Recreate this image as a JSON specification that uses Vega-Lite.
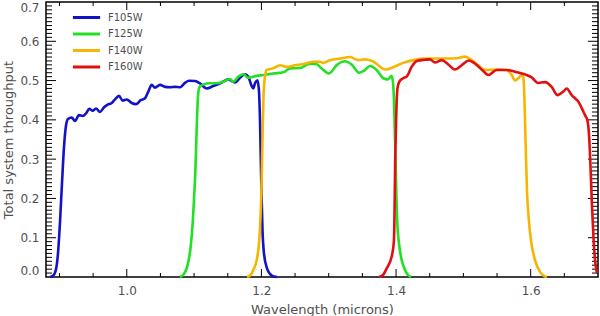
{
"$schema": "https://vega.github.io/schema/vega-lite/v6.json",
"width": 552, "height": 275,
"autosize": {"type": "none"},
"padding": {"left": 46, "top": 2, "right": 2, "bottom": 39},
"background": "white",
"config": {"view": {"stroke": "black", "strokeWidth": 1.5}, "font": "DejaVu Sans"},
"datasets": {
"curves": [
{"filter":"F105W","w":0.8859,"t":0},{"filter":"F105W","w":0.8904,"t":0.003},{"filter":"F105W","w":0.8949,"t":0.02},{"filter":"F105W","w":0.8978,"t":0.06},{"filter":"F105W","w":0.9008,"t":0.14},{"filter":"F105W","w":0.9038,"t":0.24},{"filter":"F105W","w":0.9067,"t":0.33},{"filter":"F105W","w":0.9097,"t":0.385},{"filter":"F105W","w":0.9127,"t":0.402},{"filter":"F105W","w":0.9182,"t":0.406},{"filter":"F105W","w":0.9231,"t":0.397},{"filter":"F105W","w":0.929,"t":0.412},{"filter":"F105W","w":0.9345,"t":0.41},{"filter":"F105W","w":0.9394,"t":0.4165},{"filter":"F105W","w":0.9443,"t":0.428},{"filter":"F105W","w":0.9494,"t":0.423},{"filter":"F105W","w":0.9543,"t":0.429},{"filter":"F105W","w":0.9602,"t":0.42},{"filter":"F105W","w":0.9662,"t":0.432},{"filter":"F105W","w":0.9717,"t":0.439},{"filter":"F105W","w":0.9776,"t":0.443},{"filter":"F105W","w":0.9825,"t":0.452},{"filter":"F105W","w":0.9884,"t":0.461},{"filter":"F105W","w":0.9939,"t":0.449},{"filter":"F105W","w":0.9999,"t":0.452},{"filter":"F105W","w":1.0073,"t":0.443},{"filter":"F105W","w":1.0137,"t":0.44},{"filter":"F105W","w":1.0207,"t":0.45},{"filter":"F105W","w":1.0271,"t":0.455},{"filter":"F105W","w":1.032,"t":0.472},{"filter":"F105W","w":1.037,"t":0.489},{"filter":"F105W","w":1.0419,"t":0.482},{"filter":"F105W","w":1.0493,"t":0.489},{"filter":"F105W","w":1.0568,"t":0.484},{"filter":"F105W","w":1.0642,"t":0.483},{"filter":"F105W","w":1.0716,"t":0.484},{"filter":"F105W","w":1.0791,"t":0.483},{"filter":"F105W","w":1.0865,"t":0.494},{"filter":"F105W","w":1.0924,"t":0.4995},{"filter":"F105W","w":1.1013,"t":0.499},{"filter":"F105W","w":1.1088,"t":0.493},{"filter":"F105W","w":1.1187,"t":0.48},{"filter":"F105W","w":1.1285,"t":0.486},{"filter":"F105W","w":1.141,"t":0.495},{"filter":"F105W","w":1.1508,"t":0.503},{"filter":"F105W","w":1.1607,"t":0.495},{"filter":"F105W","w":1.1682,"t":0.507},{"filter":"F105W","w":1.1756,"t":0.516},{"filter":"F105W","w":1.1805,"t":0.51},{"filter":"F105W","w":1.1856,"t":0.486},{"filter":"F105W","w":1.1879,"t":0.48},{"filter":"F105W","w":1.1905,"t":0.493},{"filter":"F105W","w":1.1939,"t":0.501},{"filter":"F105W","w":1.1961,"t":0.48},{"filter":"F105W","w":1.1979,"t":0.4},{"filter":"F105W","w":1.2,"t":0.22},{"filter":"F105W","w":1.2016,"t":0.12},{"filter":"F105W","w":1.2038,"t":0.06},{"filter":"F105W","w":1.2083,"t":0.022},{"filter":"F105W","w":1.2127,"t":0.008},{"filter":"F105W","w":1.2187,"t":0.001},{"filter":"F105W","w":1.2231,"t":0},
{"filter":"F125W","w":1.079,"t":0},{"filter":"F125W","w":1.085,"t":0.008},{"filter":"F125W","w":1.0895,"t":0.025},{"filter":"F125W","w":1.0949,"t":0.077},{"filter":"F125W","w":1.0979,"t":0.137},{"filter":"F125W","w":1.0998,"t":0.196},{"filter":"F125W","w":1.1021,"t":0.28},{"filter":"F125W","w":1.1039,"t":0.38},{"filter":"F125W","w":1.1058,"t":0.46},{"filter":"F125W","w":1.108,"t":0.484},{"filter":"F125W","w":1.1137,"t":0.49},{"filter":"F125W","w":1.1236,"t":0.493},{"filter":"F125W","w":1.1336,"t":0.493},{"filter":"F125W","w":1.1434,"t":0.497},{"filter":"F125W","w":1.1533,"t":0.504},{"filter":"F125W","w":1.1582,"t":0.497},{"filter":"F125W","w":1.1657,"t":0.51},{"filter":"F125W","w":1.1731,"t":0.516},{"filter":"F125W","w":1.1805,"t":0.507},{"filter":"F125W","w":1.193,"t":0.512},{"filter":"F125W","w":1.2028,"t":0.514},{"filter":"F125W","w":1.2176,"t":0.518},{"filter":"F125W","w":1.2325,"t":0.521},{"filter":"F125W","w":1.2424,"t":0.531},{"filter":"F125W","w":1.2573,"t":0.532},{"filter":"F125W","w":1.2707,"t":0.542},{"filter":"F125W","w":1.2811,"t":0.542},{"filter":"F125W","w":1.29,"t":0.53},{"filter":"F125W","w":1.3004,"t":0.518},{"filter":"F125W","w":1.3123,"t":0.54},{"filter":"F125W","w":1.3241,"t":0.549},{"filter":"F125W","w":1.3345,"t":0.54},{"filter":"F125W","w":1.345,"t":0.52},{"filter":"F125W","w":1.3524,"t":0.525},{"filter":"F125W","w":1.3613,"t":0.537},{"filter":"F125W","w":1.3712,"t":0.527},{"filter":"F125W","w":1.381,"t":0.506},{"filter":"F125W","w":1.388,"t":0.503},{"filter":"F125W","w":1.3932,"t":0.512},{"filter":"F125W","w":1.3955,"t":0.495},{"filter":"F125W","w":1.3969,"t":0.45},{"filter":"F125W","w":1.399,"t":0.32},{"filter":"F125W","w":1.4006,"t":0.2},{"filter":"F125W","w":1.4021,"t":0.13},{"filter":"F125W","w":1.4044,"t":0.085},{"filter":"F125W","w":1.4084,"t":0.043},{"filter":"F125W","w":1.4133,"t":0.018},{"filter":"F125W","w":1.4177,"t":0.005},{"filter":"F125W","w":1.4222,"t":0},
{"filter":"F140W","w":1.1786,"t":0},{"filter":"F140W","w":1.1845,"t":0.006},{"filter":"F140W","w":1.1879,"t":0.018},{"filter":"F140W","w":1.193,"t":0.043},{"filter":"F140W","w":1.1968,"t":0.094},{"filter":"F140W","w":1.1986,"t":0.15},{"filter":"F140W","w":1.2,"t":0.22},{"filter":"F140W","w":1.2016,"t":0.35},{"filter":"F140W","w":1.2031,"t":0.46},{"filter":"F140W","w":1.2053,"t":0.51},{"filter":"F140W","w":1.2078,"t":0.527},{"filter":"F140W","w":1.2176,"t":0.531},{"filter":"F140W","w":1.2276,"t":0.539},{"filter":"F140W","w":1.2375,"t":0.535},{"filter":"F140W","w":1.2499,"t":0.539},{"filter":"F140W","w":1.2622,"t":0.542},{"filter":"F140W","w":1.2771,"t":0.548},{"filter":"F140W","w":1.287,"t":0.548},{"filter":"F140W","w":1.2919,"t":0.545},{"filter":"F140W","w":1.3019,"t":0.552},{"filter":"F140W","w":1.3167,"t":0.556},{"filter":"F140W","w":1.3316,"t":0.56},{"filter":"F140W","w":1.3439,"t":0.552},{"filter":"F140W","w":1.3539,"t":0.554},{"filter":"F140W","w":1.3662,"t":0.548},{"filter":"F140W","w":1.3736,"t":0.539},{"filter":"F140W","w":1.3836,"t":0.528},{"filter":"F140W","w":1.3959,"t":0.534},{"filter":"F140W","w":1.4107,"t":0.545},{"filter":"F140W","w":1.4256,"t":0.552},{"filter":"F140W","w":1.4405,"t":0.556},{"filter":"F140W","w":1.4604,"t":0.556},{"filter":"F140W","w":1.4752,"t":0.556},{"filter":"F140W","w":1.4901,"t":0.557},{"filter":"F140W","w":1.5024,"t":0.561},{"filter":"F140W","w":1.5124,"t":0.552},{"filter":"F140W","w":1.5222,"t":0.539},{"filter":"F140W","w":1.5321,"t":0.527},{"filter":"F140W","w":1.5495,"t":0.528},{"filter":"F140W","w":1.5644,"t":0.527},{"filter":"F140W","w":1.5718,"t":0.514},{"filter":"F140W","w":1.5767,"t":0.5},{"filter":"F140W","w":1.5816,"t":0.506},{"filter":"F140W","w":1.5866,"t":0.514},{"filter":"F140W","w":1.5893,"t":0.505},{"filter":"F140W","w":1.5908,"t":0.45},{"filter":"F140W","w":1.5923,"t":0.35},{"filter":"F140W","w":1.5945,"t":0.22},{"filter":"F140W","w":1.5975,"t":0.14},{"filter":"F140W","w":1.6004,"t":0.094},{"filter":"F140W","w":1.6064,"t":0.043},{"filter":"F140W","w":1.6138,"t":0.013},{"filter":"F140W","w":1.6198,"t":0.003},{"filter":"F140W","w":1.6242,"t":0},
{"filter":"F160W","w":1.3747,"t":0},{"filter":"F160W","w":1.3806,"t":0.005},{"filter":"F160W","w":1.3861,"t":0.022},{"filter":"F160W","w":1.3935,"t":0.052},{"filter":"F160W","w":1.3969,"t":0.094},{"filter":"F160W","w":1.399,"t":0.32},{"filter":"F160W","w":1.4006,"t":0.43},{"filter":"F160W","w":1.4021,"t":0.48},{"filter":"F160W","w":1.4048,"t":0.497},{"filter":"F160W","w":1.4107,"t":0.506},{"filter":"F160W","w":1.4158,"t":0.51},{"filter":"F160W","w":1.4232,"t":0.535},{"filter":"F160W","w":1.4307,"t":0.55},{"filter":"F160W","w":1.443,"t":0.553},{"filter":"F160W","w":1.4504,"t":0.554},{"filter":"F160W","w":1.4578,"t":0.546},{"filter":"F160W","w":1.4678,"t":0.552},{"filter":"F160W","w":1.4776,"t":0.541},{"filter":"F160W","w":1.4876,"t":0.528},{"filter":"F160W","w":1.4975,"t":0.539},{"filter":"F160W","w":1.5084,"t":0.551},{"filter":"F160W","w":1.5158,"t":0.545},{"filter":"F160W","w":1.5284,"t":0.526},{"filter":"F160W","w":1.5371,"t":0.514},{"filter":"F160W","w":1.5495,"t":0.527},{"filter":"F160W","w":1.5644,"t":0.527},{"filter":"F160W","w":1.5782,"t":0.522},{"filter":"F160W","w":1.593,"t":0.515},{"filter":"F160W","w":1.6015,"t":0.508},{"filter":"F160W","w":1.6109,"t":0.494},{"filter":"F160W","w":1.6213,"t":0.496},{"filter":"F160W","w":1.6312,"t":0.484},{"filter":"F160W","w":1.6398,"t":0.463},{"filter":"F160W","w":1.6485,"t":0.472},{"filter":"F160W","w":1.6535,"t":0.48},{"filter":"F160W","w":1.6609,"t":0.463},{"filter":"F160W","w":1.6658,"t":0.455},{"filter":"F160W","w":1.6707,"t":0.447},{"filter":"F160W","w":1.6758,"t":0.43},{"filter":"F160W","w":1.6807,"t":0.412},{"filter":"F160W","w":1.6841,"t":0.4},{"filter":"F160W","w":1.6871,"t":0.35},{"filter":"F160W","w":1.6889,"t":0.28},{"filter":"F160W","w":1.6911,"t":0.18},{"filter":"F160W","w":1.6933,"t":0.1},{"filter":"F160W","w":1.6961,"t":0.035},{"filter":"F160W","w":1.6985,"t":0.01}
],
"xmajor": [{"v":1.0},{"v":1.2},{"v":1.4},{"v":1.6}],
"xminor": [{"v":0.9},{"v":0.95},{"v":1.05},{"v":1.1},{"v":1.15},{"v":1.25},{"v":1.3},{"v":1.35},{"v":1.45},{"v":1.5},{"v":1.55},{"v":1.65}],
"ymajor": [{"v":0.1},{"v":0.2},{"v":0.3},{"v":0.4},{"v":0.5},{"v":0.6}],
"yminor": [{"v":0.01},{"v":0.02},{"v":0.03},{"v":0.04},{"v":0.05},{"v":0.06},{"v":0.07},{"v":0.08},{"v":0.09},{"v":0.11},{"v":0.12},{"v":0.13},{"v":0.14},{"v":0.15},{"v":0.16},{"v":0.17},{"v":0.18},{"v":0.19},{"v":0.21},{"v":0.22},{"v":0.23},{"v":0.24},{"v":0.25},{"v":0.26},{"v":0.27},{"v":0.28},{"v":0.29},{"v":0.31},{"v":0.32},{"v":0.33},{"v":0.34},{"v":0.35},{"v":0.36},{"v":0.37},{"v":0.38},{"v":0.39},{"v":0.41},{"v":0.42},{"v":0.43},{"v":0.44},{"v":0.45},{"v":0.46},{"v":0.47},{"v":0.48},{"v":0.49},{"v":0.51},{"v":0.52},{"v":0.53},{"v":0.54},{"v":0.55},{"v":0.56},{"v":0.57},{"v":0.58},{"v":0.59},{"v":0.61},{"v":0.62},{"v":0.63},{"v":0.64},{"v":0.65},{"v":0.66},{"v":0.67},{"v":0.68},{"v":0.69}]
},
"resolve": {"axis": {"x": "independent", "y": "independent"}},
"layer": [
{"data": {"name": "xmajor"}, "mark": {"type": "rule", "color": "black", "strokeWidth": 1},
 "encoding": {"x": {"field": "v", "type": "quantitative", "axis": null}, "y": {"datum": 0, "type": "quantitative", "axis": null}, "y2": {"datum": 0.0204}}},
{"data": {"name": "xmajor"}, "mark": {"type": "rule", "color": "black", "strokeWidth": 1},
 "encoding": {"x": {"field": "v", "type": "quantitative", "axis": null}, "y": {"datum": 0.7, "type": "quantitative", "axis": null}, "y2": {"datum": 0.6796}}},
{"data": {"name": "xminor"}, "mark": {"type": "rule", "color": "black", "strokeWidth": 1},
 "encoding": {"x": {"field": "v", "type": "quantitative", "axis": null}, "y": {"datum": 0, "type": "quantitative", "axis": null}, "y2": {"datum": 0.0102}}},
{"data": {"name": "xminor"}, "mark": {"type": "rule", "color": "black", "strokeWidth": 1},
 "encoding": {"x": {"field": "v", "type": "quantitative", "axis": null}, "y": {"datum": 0.7, "type": "quantitative", "axis": null}, "y2": {"datum": 0.6898}}},
{"data": {"name": "ymajor"}, "mark": {"type": "rule", "color": "black", "strokeWidth": 1},
 "encoding": {"y": {"field": "v", "type": "quantitative", "axis": null}, "x": {"datum": 0.88, "type": "quantitative", "axis": null}, "x2": {"datum": 0.8949}}},
{"data": {"name": "ymajor"}, "mark": {"type": "rule", "color": "black", "strokeWidth": 1},
 "encoding": {"y": {"field": "v", "type": "quantitative", "axis": null}, "x": {"datum": 1.7, "type": "quantitative", "axis": null}, "x2": {"datum": 1.6851}}},
{"data": {"name": "yminor"}, "mark": {"type": "rule", "color": "black", "strokeWidth": 1},
 "encoding": {"y": {"field": "v", "type": "quantitative", "axis": null}, "x": {"datum": 0.88, "type": "quantitative", "axis": null}, "x2": {"datum": 0.8889}}},
{"data": {"name": "yminor"}, "mark": {"type": "rule", "color": "black", "strokeWidth": 1},
 "encoding": {"y": {"field": "v", "type": "quantitative", "axis": null}, "x": {"datum": 1.7, "type": "quantitative", "axis": null}, "x2": {"datum": 1.6911}}},
{
"data": {"name": "curves"},
"mark": {"type": "line", "strokeWidth": 2.6, "interpolate": "monotone"},
"encoding": {
"x": {"field": "w", "type": "quantitative", "scale": {"domain": [0.88, 1.7], "nice": false, "zero": false},
 "axis": {"orient": "bottom", "values": [1.0, 1.2, 1.4, 1.6], "format": ".1f", "ticks": false, "domain": false, "grid": false, "labelPadding": 8, "labelFontSize": 12, "labelColor": "#505050", "title": "Wavelength (microns)", "titleFontSize": 13, "titleFontWeight": "normal", "titleColor": "#505050", "titlePadding": 7}},
"y": {"field": "t", "type": "quantitative", "scale": {"domain": [0, 0.7], "nice": false, "zero": false},
 "axis": {"orient": "left", "values": [0, 0.1, 0.2, 0.3, 0.4, 0.5, 0.6, 0.7], "format": ".1f", "ticks": false, "domain": false, "grid": false, "labelFlush": true, "labelPadding": 7, "labelFontSize": 12, "labelColor": "#505050", "title": "Total system throughput", "titleFontSize": 13, "titleFontWeight": "normal", "titleColor": "#505050", "titlePadding": 4}},
"color": {"field": "filter", "type": "nominal",
 "scale": {"domain": ["F105W", "F125W", "F140W", "F160W"], "range": ["#1212c8", "#22e022", "#f7b500", "#e01010"]},
 "legend": {"orient": "none", "legendX": 35, "legendY": 10, "title": null, "padding": 0, "symbolType": "M-3.4,0H3.4", "symbolSize": 64, "symbolStrokeWidth": 3, "labelFontSize": 10, "labelColor": "#505050", "labelOffset": 16, "rowPadding": 3.5}}
}
}
]
}
